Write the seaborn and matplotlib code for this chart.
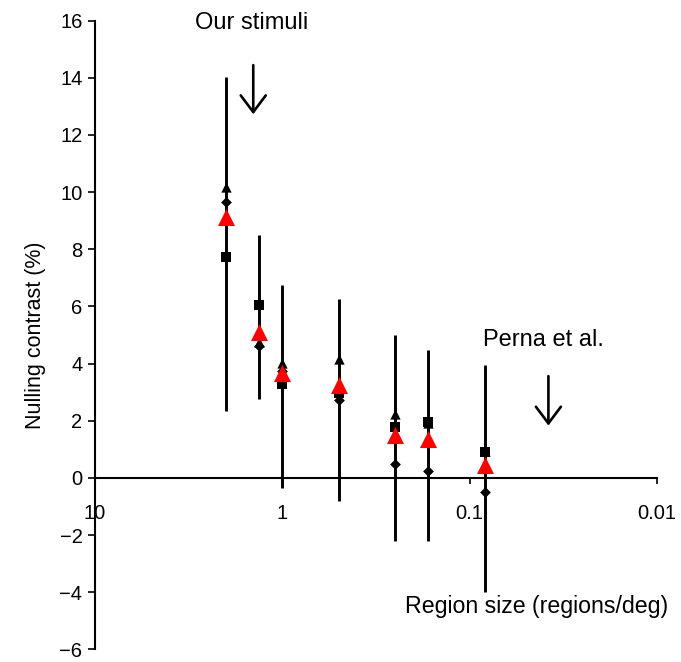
import matplotlib
matplotlib.use("Agg")
import matplotlib.pyplot as plt
import pandas as pd
import seaborn as sns

# region size (regions/deg)
region_size = [2.0, 1.333, 1.0, 0.5, 0.25, 0.1667, 0.0833]

# nulling contrast (%) for each observer and the mean
obs_triangle = [10.16, 4.75, 4.02, 4.16, 2.24, 1.92, 0.95]
obs_diamond = [9.64, 4.6, 3.75, 2.72, 0.47, 0.24, -0.51]
obs_square = [7.74, 6.05, 3.29, 2.98, 1.77, 1.95, 0.89]
mean_contrast = [9.12, 5.11, 3.67, 3.24, 1.49, 1.37, 0.45]

# error bar ends
err_low = [2.35, 2.76, -0.35, -0.82, -2.2, -2.2, -3.98]
err_high = [14.04, 8.48, 6.74, 6.26, 5.0, 4.46, 3.96]

x_ticks = [10, 1, 0.1, 0.01]
x_tick_labels = ["10", "1", "0.1", "0.01"]
y_ticks = list(range(-6, 17, 2))

data = pd.DataFrame({
    "size": region_size,
    "tri": obs_triangle,
    "dia": obs_diamond,
    "sq": obs_square,
    "mean": mean_contrast,
    "lo": err_low,
    "hi": err_high,
})

sns.set_style("white")
plt.rcParams["font.family"] = ["Liberation Sans", "DejaVu Sans"]
plt.rcParams["text.color"] = "black"
plt.rcParams["axes.labelcolor"] = "black"
plt.rcParams["xtick.color"] = "black"
plt.rcParams["ytick.color"] = "black"

fig = plt.figure(figsize=(6.81, 6.62), dpi=100)
ax = fig.add_axes([0.1395, 0.019, 0.8253, 0.95])

# vertical error bars
ax.vlines(data["size"], data["lo"], data["hi"], color="black", linewidth=2.1, zorder=2)

sns.scatterplot(data=data, x="size", y="sq", marker="s", color="black", s=55,
                edgecolor="black", linewidth=0, ax=ax, zorder=3)
sns.scatterplot(data=data, x="size", y="dia", marker="D", color="black", s=30,
                edgecolor="black", linewidth=0, ax=ax, zorder=3)
sns.scatterplot(data=data, x="size", y="tri", marker="^", color="black", s=55,
                edgecolor="black", linewidth=0, ax=ax, zorder=3)
sns.scatterplot(data=data, x="size", y="mean", marker="^", color="red", s=150,
                edgecolor="red", linewidth=0, ax=ax, zorder=4)

ax.set_xscale("log")
ax.set_xlim(10, 0.01)
ax.set_ylim(-6, 16)
ax.set_xticks(x_ticks)
ax.set_xticklabels(x_tick_labels)
ax.minorticks_off()
ax.set_yticks(y_ticks)

ax.spines["top"].set_visible(False)
ax.spines["right"].set_visible(False)
ax.spines["bottom"].set_position(("data", 0))
ax.spines["left"].set_linewidth(1.5)
ax.spines["bottom"].set_linewidth(1.5)
ax.spines["left"].set_color("black")
ax.spines["bottom"].set_color("black")

ax.tick_params(axis="y", direction="out", length=5, width=1.2, labelsize=14.5, pad=4, left=True)
ax.tick_params(axis="x", direction="out", length=4, width=1.2, labelsize=14.5, pad=15, bottom=True)

ax.set_xlabel("")
ax.set_ylabel("Nulling contrast (%)", fontsize=15.5, labelpad=10)

ax.text(1.45, 15.9, "Our stimuli", fontsize=17, ha="center", va="center")
ax.text(0.0406, 4.84, "Perna et al.", fontsize=17, ha="center", va="center")
ax.text(0.221, -4.5, "Region size (regions/deg)", fontsize=16.7, ha="left", va="center")

arrow = dict(arrowstyle="->,head_length=0.6,head_width=0.45", color="black",
             linewidth=1.9, mutation_scale=20, shrinkA=0, shrinkB=0)
ax.annotate("", xy=(1.43, 12.72), xytext=(1.43, 14.44), arrowprops=arrow)
ax.annotate("", xy=(0.038, 1.83), xytext=(0.038, 3.56), arrowprops=arrow)

fig.savefig("out.png", dpi=100)
